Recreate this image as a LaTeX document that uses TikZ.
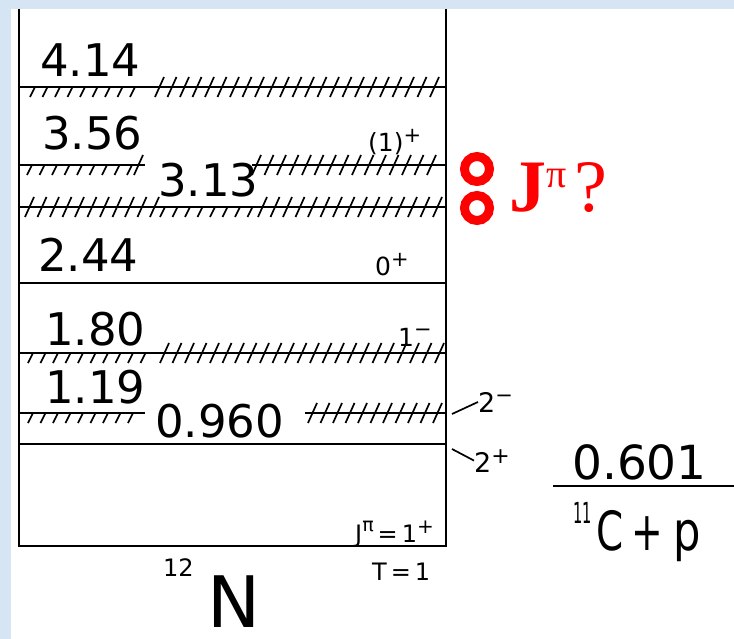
\documentclass[tikz,border=0pt]{standalone}
\usepackage{graphicx}
\usepackage{fontspec}
\setmainfont{DejaVu Sans}
\newfontfamily\redserif{Liberation Serif}
\definecolor{slide}{RGB}{214,229,244}
\definecolor{qred}{RGB}{255,0,0}
\newcommand{\hatchcross}[3]{\foreach \k in {0,...,#3} \draw[hx] ({#1+12.5*\k},{#2+10}) -- ++(9,-20);}
\newcommand{\hatchlow}[3]{\foreach \k in {0,...,#3} \draw[hx] ({#1+12.5*\k},{#2+10}) -- ++(5,-10);}
\newcommand{\parity}[3]{\raisebox{#1}{\fontsize{#2}{#2}\selectfont #3}}

\begin{document}
\begin{tikzpicture}[x=1pt, y=-1pt,
  lvl/.style={line width=2.4pt},
  hx/.style={line width=1.7pt},
  energy/.style={font=\fontsize{45}{45}\selectfont, inner sep=0pt, anchor=base west},
  spin/.style={font=\fontsize{25}{25}\selectfont, inner sep=0pt, anchor=base west},
  ptr/.style={line width=1.7pt},
  ring/.style={draw=qred, line width=9pt}]
\useasboundingbox (0,0) rectangle (734,639);
\fill[slide] (0,0) rectangle (734,639);
\fill[white] (11,9) rectangle (734,639);
% frame of the 12N box
\draw[lvl, line width=2.8pt] (19,9) -- (19,546) -- (446,546) -- (446,9);
% levels
\draw[lvl] (19,87) -- (446,87);
\hatchlow{30}{87}{8} \hatchcross{155}{87}{22}
\draw[lvl] (19,165) -- (145,165); \draw[lvl] (252,165) -- (446,165);
\hatchlow{27}{165}{8} \hatchcross{134}{165}{0} \hatchcross{252}{165}{14}
\draw[lvl] (19,207) -- (446,207);
\hatchcross{25}{207}{10} \hatchlow{160}{207}{7} \hatchcross{258}{207}{14}
\draw[lvl] (19,283) -- (446,283);
\draw[lvl] (19,353) -- (446,353);
\hatchlow{28}{353}{9} \hatchcross{160}{353}{22}
\draw[lvl] (19,413) -- (145,413); \draw[lvl] (305,413) -- (446,413);
\hatchlow{28}{413}{8} \hatchcross{308}{413}{10}
\draw[lvl] (19,444) -- (446,444);
% energies
\node[energy] (e414) at (40,77) {4.14};
\node[energy] (e356) at (42,150) {3.56};
\node[energy] (e313) at (158,197) {3.13};
\node[energy] (e244) at (38,272) {2.44};
\node[energy] (e180) at (45,345) {1.80};
\node[energy] (e119) at (45,403) {1.19};
\node[energy] (e096) at (155,437) {0.960};
% spins
\node[spin] (j356) at (368,152) {(1)\parity{9pt}{21}{+}};
\node[spin] (j244) at (375,276) {0\parity{9pt}{21}{+}};
\node[spin] (j180) at (398,346) {1\parity{10pt}{21}{−}};
\node[spin, font=\fontsize{27}{27}\selectfont] (j096) at (478,412) {2\parity{10pt}{21}{−}};
\node[spin, font=\fontsize{27}{27}\selectfont] (j000) at (474,472) {2\parity{9pt}{22}{+}};
\node[spin, font=\fontsize{24}{24}\selectfont] (jgs) at (355,542) {J\parity{11pt}{19}{π}\,=\,1\parity{9pt}{20}{+}};
\node[spin, font=\fontsize{24}{24}\selectfont] (tgs) at (372,580) {T\,=\,1};
\coordinate (r096) at (452,414);
\coordinate (r000) at (452,449);
\draw[ptr] (r096) -- (j096.west);
\draw[ptr] (r000) -- (j000.west);
% nucleus
\node[energy, text depth=0pt, font=\fontsize{71}{71}\selectfont] (nuc) at (163,627) {\parity{51pt}{24}{12}\hspace{14pt}N};
% threshold
\node[energy, font=\fontsize{47}{47}\selectfont] (thr) at (572,479) {0.601};
\draw[lvl] (553,486) -- (734,486);
\node[energy, font=\fontsize{54}{54}\selectfont] (chan) at (573,550) {\parity{27pt}{29}{\scalebox{0.5}[1]{11}}\hspace{5pt}\scalebox{0.72}[1]{C}\hspace{8pt}\scalebox{0.7}[1]{+}\hspace{10pt}\scalebox{0.8}[1]{p}};
% question
\draw[ring] (477,169) circle (12.5);
\draw[ring] (477,208) circle (12.5);
\node[energy, text=qred, font=\redserif\fontsize{74}{74}\selectfont] (jpq) at (509,212) {\textbf{J}\parity{24pt}{40}{π}\hspace{8pt}?};
\end{tikzpicture}
\end{document}
